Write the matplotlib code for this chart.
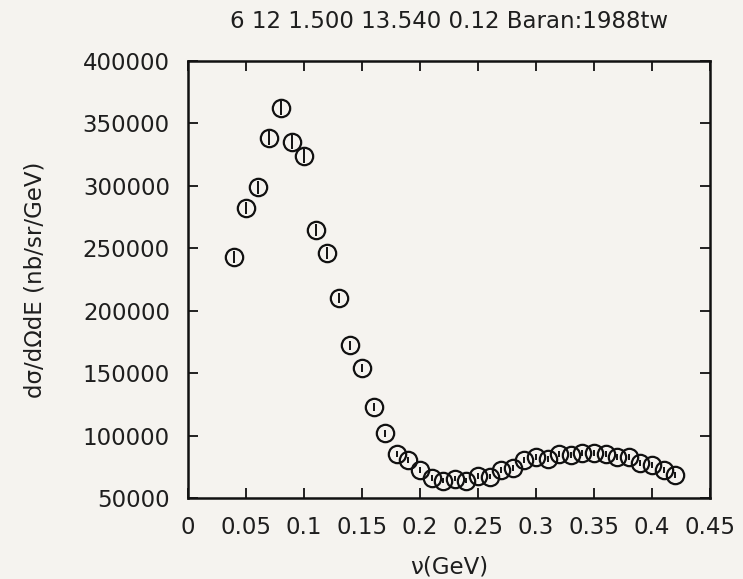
import matplotlib
matplotlib.use('Agg')
import matplotlib.pyplot as plt
import numpy as np

# cross section vs energy transfer (Baran:1988tw, 6 12 1.500 13.540 0.12)
nu = [0.04, 0.05, 0.06, 0.07, 0.08, 0.09, 0.10, 0.11, 0.12, 0.13,
      0.14, 0.15, 0.16, 0.17, 0.18, 0.19, 0.20, 0.21, 0.22, 0.23,
      0.24, 0.25, 0.26, 0.27, 0.28, 0.29, 0.30, 0.31, 0.32, 0.33,
      0.34, 0.35, 0.36, 0.37, 0.38, 0.39, 0.40, 0.41, 0.42]
xsec = [243000, 282300, 299000, 338300, 362400, 335100, 323900, 264600, 246200, 210200,
        172500, 154100, 122900, 102000, 85200, 80400, 72400, 66000, 63600, 65200,
        63600, 67600, 67000, 72400, 74000, 80400, 82800, 81200, 85200, 84400,
        86000, 86000, 85200, 82800, 82800, 78000, 76400, 72400, 68400]
err = [5000, 5200, 5300, 5600, 5800, 5500, 5400, 4800, 4600, 4200,
       3600, 3400, 3000, 2800, 2500, 2400, 2200, 2100, 2000, 2000,
       2000, 2100, 2100, 2200, 2200, 2300, 2300, 2300, 2400, 2400,
       2400, 2400, 2400, 2300, 2300, 2300, 2200, 2200, 2100]

xticks = [0, 0.05, 0.1, 0.15, 0.2, 0.25, 0.3, 0.35, 0.4, 0.45]
yticks = [50000, 100000, 150000, 200000, 250000, 300000, 350000, 400000]

BG = '#f5f3ef'
INK = '#111111'
TXT = '#1e1e1e'
FS = 16.5

plt.rcParams['font.family'] = 'DejaVu Sans'

fig = plt.figure(figsize=(7.43, 5.79), dpi=100, facecolor=BG)
ax = fig.add_axes([0.253, 0.140, 0.7025, 0.7545])
ax.set_facecolor(BG)

ax.errorbar(nu, xsec, yerr=err, fmt='o', ms=12.5, mfc='none', mec=INK, mew=1.6,
            ecolor=INK, elinewidth=1.4, capsize=0, zorder=3)

ax.set_xlim(0, 0.45)
ax.set_ylim(50000, 400000)
ax.set_xticks(xticks)
ax.set_xticklabels(['%g' % t for t in xticks])
ax.set_yticks(yticks)
ax.set_yticklabels(['%d' % t for t in yticks])

ax.tick_params(direction='in', top=True, right=True, length=7.5, width=1.3,
               labelsize=FS, labelcolor=TXT, color=INK)
ax.tick_params(axis='y', pad=13)
ax.tick_params(axis='x', pad=13)
for s in ax.spines.values():
    s.set_linewidth(1.8)
    s.set_color(INK)

ax.set_xlabel('ν(GeV)', fontsize=FS, color=TXT, labelpad=12)
ax.set_ylabel('dσ/dΩdE (nb/sr/GeV)', fontsize=FS, color=TXT, labelpad=26)
ax.set_title('6 12 1.500 13.540 0.12 Baran:1988tw', fontsize=FS, color=TXT, pad=24)

fig.savefig('out.png', dpi=100, facecolor=BG)
